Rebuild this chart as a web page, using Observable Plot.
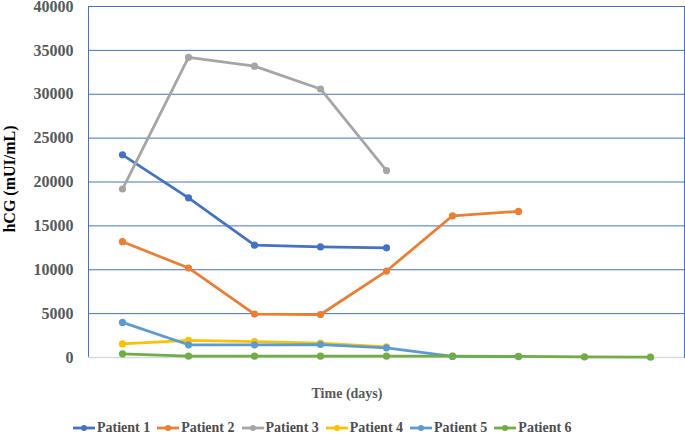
<!DOCTYPE html>
<html>
<head>
<meta charset="utf-8">
<script src="https://cdn.jsdelivr.net/npm/d3@7"></script>
<script src="https://cdn.jsdelivr.net/npm/@observablehq/plot@0.6"></script>
<style>
  html, body { margin: 0; padding: 0; background: #fff; }
  #wrap { position: relative; width: 685px; height: 436px; overflow: hidden; font-family: "Liberation Serif", "Times New Roman", serif; }
  #chart svg { display: block; overflow: visible; }
  #ytitle { position: absolute; left: 10px; top: 179px; transform: translate(-50%, -50%) rotate(-90deg); font-weight: bold; font-size: 16px; color: #000; white-space: nowrap; }
  #xtitle { position: absolute; left: 0; width: 694px; top: 386px; text-align: center; font-weight: bold; font-size: 14px; color: #595959; }
  #legend { position: absolute; left: 73px; top: 420px; display: flex; font-weight: bold; font-size: 14px; color: #4d4d4d; line-height: 16px; }
  .item { display: flex; align-items: center; margin-right: 7px; }
  .item svg { margin-right: 2px; }
</style>
</head>
<body>
<div id="wrap">
  <div id="chart"></div>
  <div id="ytitle">hCG (mUI/mL)</div>
  <div id="xtitle">Time (days)</div>
  <div id="legend"></div>
</div>
<script>
const days = [1, 2, 3, 4, 5, 6, 7, 8, 9];
const patients = ["Patient 1", "Patient 2", "Patient 3", "Patient 4", "Patient 5", "Patient 6"];
const colors = ["#4472C4", "#ED7D31", "#A5A5A5", "#FFC000", "#5B9BD5", "#70AD47"];
const yTicks = [0, 5000, 10000, 15000, 20000, 25000, 30000, 35000, 40000];

const patient1 = [23100, 18200, 12800, 12600, 12500];
const patient2 = [13200, 10200, 4950, 4900, 9850, 16150, 16650];
const patient3 = [19200, 34200, 33200, 30600, 21300];
const patient4 = [1550, 1950, 1800, 1650, 1200];
const patient5 = [4000, 1450, 1450, 1480, 1100, 120, 110];
const patient6 = [420, 150, 150, 150, 150, 150, 140, 60, 40];

const series = [patient1, patient2, patient3, patient4, patient5, patient6];
const data = [];
series.forEach((vals, i) => vals.forEach((v, j) => data.push({patient: patients[i], day: days[j], value: v})));

const color = {domain: patients, range: colors};

const chart = Plot.plot({
  width: 685,
  height: 412,
  marginLeft: 88,
  marginRight: 1,
  marginTop: 6,
  marginBottom: 55,
  style: {fontFamily: "Liberation Serif, Times New Roman, serif", background: "#fff", overflow: "visible"},
  x: {type: "point", domain: days, padding: 0.5, axis: null},
  y: {domain: [0, 40000], axis: null},
  color,
  marks: [
    Plot.gridY(yTicks.filter(d => d > 0), {stroke: "#4472C4", strokeOpacity: 1, strokeWidth: 1}),
    Plot.frame({stroke: "#4472C4", strokeWidth: 1}),
    Plot.ruleY([0], {stroke: "#D9D9D9", strokeWidth: 1.5}),
    Plot.axisY(yTicks, {tickSize: 0, tickPadding: 15, fontSize: 16, fontWeight: "bold", fill: "#595959", label: null, tickFormat: d => String(d)}),
    Plot.line(data, {x: "day", y: "value", z: "patient", stroke: "patient", strokeWidth: 2.75, curve: "linear"}),
    Plot.dot(data, {x: "day", y: "value", fill: "patient", r: 3.6})
  ]
});
document.getElementById("chart").appendChild(chart);

const legend = document.getElementById("legend");
patients.forEach((p, i) => {
  const item = document.createElement("div");
  item.className = "item";
  item.innerHTML = `<svg width="22" height="10"><line x1="0" x2="22" y1="5" y2="5" stroke="${colors[i]}" stroke-width="2.75"/><circle cx="11" cy="5" r="3" fill="${colors[i]}"/></svg><span>${p}</span>`;
  legend.appendChild(item);
});
</script>
</body>
</html>
